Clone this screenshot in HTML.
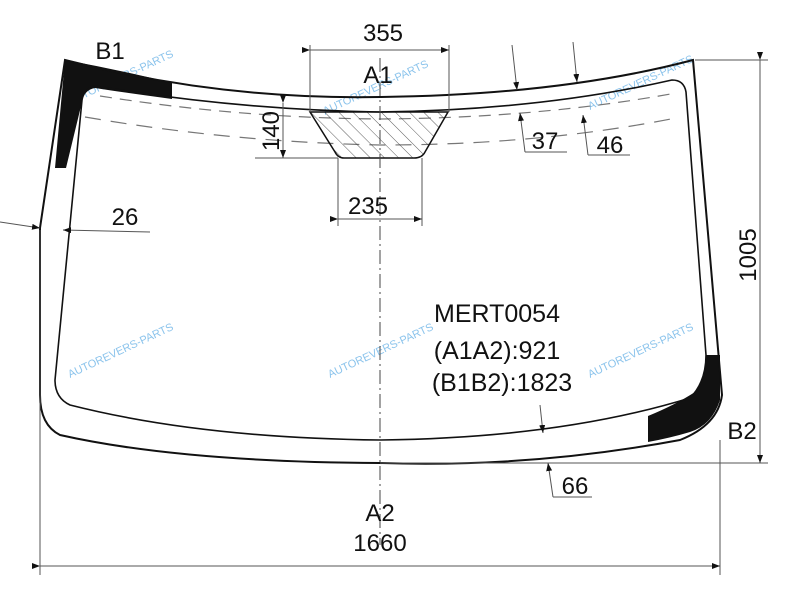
<!DOCTYPE html>
<html><head><meta charset="utf-8"><style>
html,body{margin:0;padding:0;background:#fff}
svg{display:block}
text{font-family:"Liberation Sans",sans-serif;fill:#111}
.w text{fill:#8cc4ec;font-size:11px}
</style></head><body>
<svg width="800" height="600" viewBox="0 0 800 600" xmlns="http://www.w3.org/2000/svg">
<defs>
<pattern id="h" width="10" height="10" patternUnits="userSpaceOnUse" patternTransform="rotate(-45)">
<line x1="0" y1="0" x2="0" y2="10" stroke="#333" stroke-width="0.8"/>
</pattern>
<marker id="a" markerWidth="8" markerHeight="6" refX="8" refY="3" orient="auto" markerUnits="userSpaceOnUse"><path d="M0,0 L8,3 L0,6Z" fill="#111"/></marker>
</defs>
<g class="w">
<text transform="translate(70,105) rotate(-25)">AUTOREVERS-PARTS</text>
<text transform="translate(325,115) rotate(-25)">AUTOREVERS-PARTS</text>
<text transform="translate(590,110) rotate(-25)">AUTOREVERS-PARTS</text>
<text transform="translate(70,378) rotate(-25)">AUTOREVERS-PARTS</text>
<text transform="translate(330,378) rotate(-25)">AUTOREVERS-PARTS</text>
<text transform="translate(590,378) rotate(-25)">AUTOREVERS-PARTS</text>
</g>
<!-- black B1 -->
<path d="M65,60 Q120,70 172,83 L172,99 Q120,92 95,88 Q84,90 82,102 L66,168 L55,168 Z" fill="#111"/>
<!-- black B2 -->
<path d="M720,355 L720,400 Q712,425 690,432 Q670,438 648,442 L648,416 Q675,405 695,392 Q705,380 706,355 Z" fill="#111"/>
<!-- outer -->
<path d="M65,60 Q220,100 380,97 Q560,95 693,60 L722,395 Q718,425 680,440 Q530,468 380,463 Q180,462 60,435 Q40,425 40,395 L40,228 Z" fill="none" stroke="#111" stroke-width="2"/>
<!-- inner -->
<path d="M95,86 Q240,110 380,112 Q540,110 672,80 Q684,80 686,92 L706,355 Q706,382 690,398 Q560,438 380,440 Q200,438 70,405 Q55,398 55,380 L82,100 Q84,88 95,86 Z" fill="none" stroke="#111" stroke-width="1.6"/>
<!-- dashed -->
<path d="M100,96 Q240,118 380,119 Q540,118 676,93" fill="none" stroke="#777" stroke-width="1.2" stroke-dasharray="12,8"/>
<path d="M85,117 Q230,142 380,145 Q540,145 676,118" fill="none" stroke="#777" stroke-width="1.2" stroke-dasharray="16,10"/>
<!-- hatch -->
<path d="M310,112 L448,112 L425,152 Q422,158 414,158 L344,158 Q338,158 335,152 Z" fill="url(#h)" stroke="#111" stroke-width="1.5"/>
<!-- center line -->
<line x1="380" y1="58" x2="380" y2="545" stroke="#444" stroke-width="1" stroke-dasharray="14,4,2,4"/>
<g stroke="#555" stroke-width="1" fill="none">
<line x1="310" y1="45" x2="310" y2="112"/><line x1="449" y1="45" x2="449" y2="112"/>
<line x1="310" y1="50" x2="449" y2="50" marker-start="url(#a)" marker-end="url(#a)"/>
<line x1="255" y1="158" x2="338" y2="158"/>
<line x1="283" y1="103" x2="283" y2="158" marker-start="url(#a)" marker-end="url(#a)"/>
<line x1="338" y1="158" x2="338" y2="226"/><line x1="422" y1="158" x2="422" y2="226"/>
<line x1="338" y1="219" x2="422" y2="219" marker-start="url(#a)" marker-end="url(#a)"/>
<line x1="0" y1="222" x2="40" y2="228" marker-end="url(#a)"/>
<line x1="150" y1="232" x2="63" y2="230" marker-end="url(#a)"/>
<line x1="512" y1="45" x2="517" y2="90" marker-end="url(#a)"/>
<line x1="573" y1="42" x2="577" y2="82" marker-end="url(#a)"/>
<path d="M525,152 L520,113" marker-end="url(#a)"/><line x1="525" y1="152" x2="567" y2="152"/>
<path d="M588,155 L583,115" marker-end="url(#a)"/><line x1="588" y1="155" x2="630" y2="155"/>
<line x1="695" y1="60" x2="768" y2="60"/><line x1="380" y1="463" x2="768" y2="463"/>
<line x1="760" y1="60" x2="760" y2="463" marker-start="url(#a)" marker-end="url(#a)"/>
<line x1="540" y1="405" x2="543" y2="433" marker-end="url(#a)"/>
<path d="M553,497 L548,463" marker-end="url(#a)"/><line x1="553" y1="497" x2="592" y2="497"/>
<line x1="40" y1="230" x2="40" y2="575"/><line x1="720" y1="440" x2="720" y2="575"/>
<line x1="40" y1="566" x2="720" y2="566" marker-start="url(#a)" marker-end="url(#a)"/>
</g>
<g font-size="24">
<text x="383" y="41" text-anchor="middle">355</text>
<text x="378" y="83" text-anchor="middle">A1</text>
<text x="110" y="59" text-anchor="middle">B1</text>
<text x="271" y="131" text-anchor="middle" transform="rotate(-90 271 131)" dy="8">140</text>
<text x="368" y="214" text-anchor="middle">235</text>
<text x="125" y="225" text-anchor="middle">26</text>
<text x="545" y="149" text-anchor="middle">37</text>
<text x="610" y="153" text-anchor="middle">46</text>
<text x="748" y="255" text-anchor="middle" transform="rotate(-90 748 255)" dy="8">1005</text>
<text x="742" y="439" text-anchor="middle">B2</text>
<text x="575" y="494" text-anchor="middle">66</text>
<text x="380" y="521" text-anchor="middle">A2</text>
<text x="380" y="551" text-anchor="middle">1660</text>
</g>
<g font-size="25">
<text x="497" y="322" text-anchor="middle">MERT0054</text>
<text x="497" y="359" text-anchor="middle">(A1A2):921</text>
<text x="502" y="391" text-anchor="middle">(B1B2):1823</text>
</g>
</svg>
</body></html>
